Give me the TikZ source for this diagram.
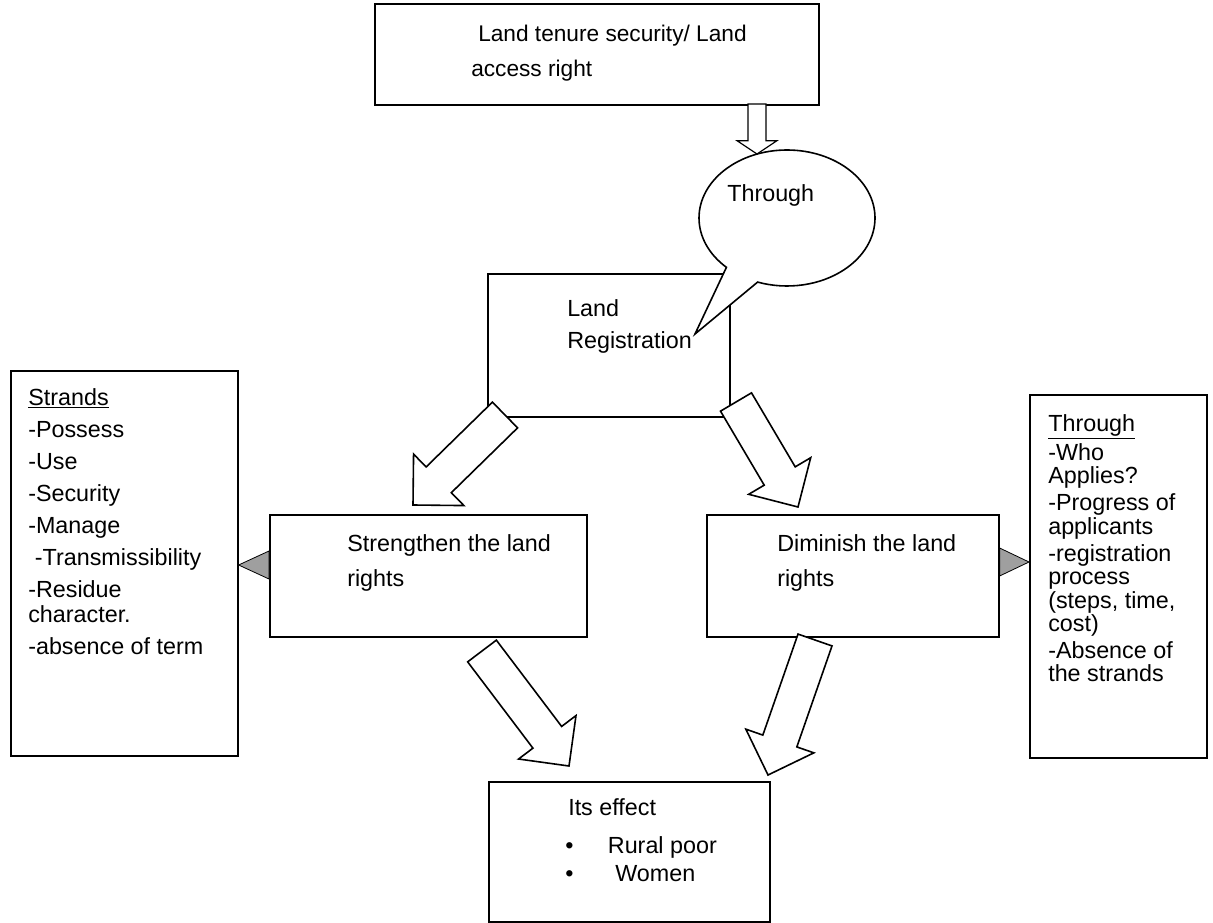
\documentclass[tikz,border=0pt]{standalone}
\usepackage{fontspec}
\setmainfont{Liberation Sans}
\usetikzlibrary{shapes.callouts, positioning, calc}
\tikzset{
  box/.style={rectangle, draw, line width=1.2pt, fill=white, inner sep=0pt, anchor=north west},
  txt/.style={anchor=north west, inner sep=0pt, align=left},
  bubble/.style={ellipse callout, draw, fill=white, line width=1.2pt, inner sep=0pt,
                 minimum width=132pt, minimum height=102pt, callout pointer arc=24},
  bigarr/.style n args={3}{draw, fill=white, line width=1.2pt, line join=miter,
    to path={($(\tikztostart)!#1!90:(\tikztotarget)$)
      -- ($(\tikztotarget)!#3!(\tikztostart)!#1!90:(\tikztotarget)$)
      -- ($(\tikztotarget)!#3!(\tikztostart)!#2!90:(\tikztotarget)$)
      -- (\tikztotarget)
      -- ($(\tikztotarget)!#3!(\tikztostart)!#2!-90:(\tikztotarget)$)
      -- ($(\tikztotarget)!#3!(\tikztostart)!#1!-90:(\tikztotarget)$)
      -- ($(\tikztostart)!#1!-90:(\tikztotarget)$) -- cycle}},
  pointer/.style={fill=gray!75, draw=black, line width=0.6pt},
}

\begin{document}
\begin{tikzpicture}[
  x=0.75pt, y=-0.75pt,
  every node/.style={font=\fontsize{17.5}{21}\selectfont},
]
  \useasboundingbox (0,0) rectangle (1213,923);

  % boxes
  \node[box, minimum width=333pt, minimum height=75.75pt] (tenure) at (374,3) {};
  \node[box, minimum width=181.5pt, minimum height=107.25pt] (reg) at (487,273) {};
  \node[box, minimum width=237.75pt, minimum height=91.5pt] (strong) at (269,514) {};
  \node[box, minimum width=219pt, minimum height=91.5pt] (dimin) at (706,514) {};
  \node[box, minimum width=170.25pt, minimum height=288.75pt] (strands) at (10,370) {};
  \node[box, minimum width=132.75pt, minimum height=272.25pt] (ways) at (1029,394) {};
  \node[box, minimum width=210.75pt, minimum height=105pt] (effect) at (488,781) {};

  % callout over the registration box
  \coordinate (tip) at (695,334);
  \node[bubble, callout absolute pointer={(tip)}] (thru) at (787,218) {};

  % texts
  \node[txt, font=\fontsize{17}{26.25}\selectfont] (tenuretxt) at (471,24.5)
    {\hspace*{5.25pt}Land tenure security/ Land\\access right};
  \node[txt] (thrutxt) at (727,184) {Through};
  \node[txt, font=\fontsize{17.5}{24}\selectfont] (regtxt) at (567,299) {Land\\Registration};
  \node[txt, font=\fontsize{17.5}{26.25}\selectfont] (strongtxt) at (347,534)
    {Strengthen the land\\rights};
  \node[txt, font=\fontsize{17.5}{26.25}\selectfont] (dimintxt) at (777,534)
    {Diminish the land\\rights};
  \node[txt, font=\fontsize{17.5}{18.75}\selectfont] (strandstxt) at (28,388)
    {\underline{Strands}\\[5.25pt]
     -Possess\\[5.25pt]
     -Use\\[5.25pt]
     -Security\\[5.25pt]
     -Manage\\[5.25pt]
     \hspace*{5pt}-Transmissibility\\[5.25pt]
     -Residue\\
     character.\\[5.25pt]
     -absence of term};
  \node[txt, font=\fontsize{17.5}{17.6}\selectfont] (waystxt) at (1048,414)
    {\underline{Through}\\[2.6pt]
     -Who\\
     Applies?\\[2.6pt]
     -Progress of\\
     applicants\\[2.6pt]
     -registration\\
     process\\
     (steps, time,\\
     cost)\\[2.6pt]
     -Absence of\\
     the strands};
  \node[txt, font=\fontsize{17.5}{21}\selectfont] (effecttxt) at (565,798)
    {\hspace*{2.25pt}Its effect\\[7.5pt]
     \makebox[32pt][l]{\textbullet}Rural poor\\
     \makebox[37.5pt][l]{\textbullet}Women};

  % arrows
  \coordinate (a0s) at (757,104);
  \coordinate (a0e) at (757,154);
  \coordinate (a1s) at (505,415);
  \coordinate (a1e) at (413,505);
  \coordinate (a2s) at (736,402);
  \coordinate (a2e) at (798,507);
  \coordinate (a3s) at (482,651);
  \coordinate (a3e) at (569,766);
  \coordinate (a4s) at (815,640);
  \coordinate (a4e) at (768,775);
  \draw[bigarr={6.75pt}{15pt}{10pt}, line width=0.9pt] (a0s) to (a0e);
  \draw[bigarr={13.5pt}{27pt}{27pt}] (a1s) to (a1e);
  \draw[bigarr={13.5pt}{27pt}{27pt}] (a2s) to (a2e);
  \draw[bigarr={13.5pt}{27pt}{27pt}] (a3s) to (a3e);
  \draw[bigarr={13.5pt}{27pt}{27pt}] (a4s) to (a4e);

  % side pointers
  \filldraw[pointer] (strong.west |- 0,551) -- (strands.east |- 0,565) -- (strong.west |- 0,579) -- cycle;
  \filldraw[pointer] (dimin.east |- 0,548) -- (ways.west |- 0,562) -- (dimin.east |- 0,576) -- cycle;
\end{tikzpicture}
\end{document}
